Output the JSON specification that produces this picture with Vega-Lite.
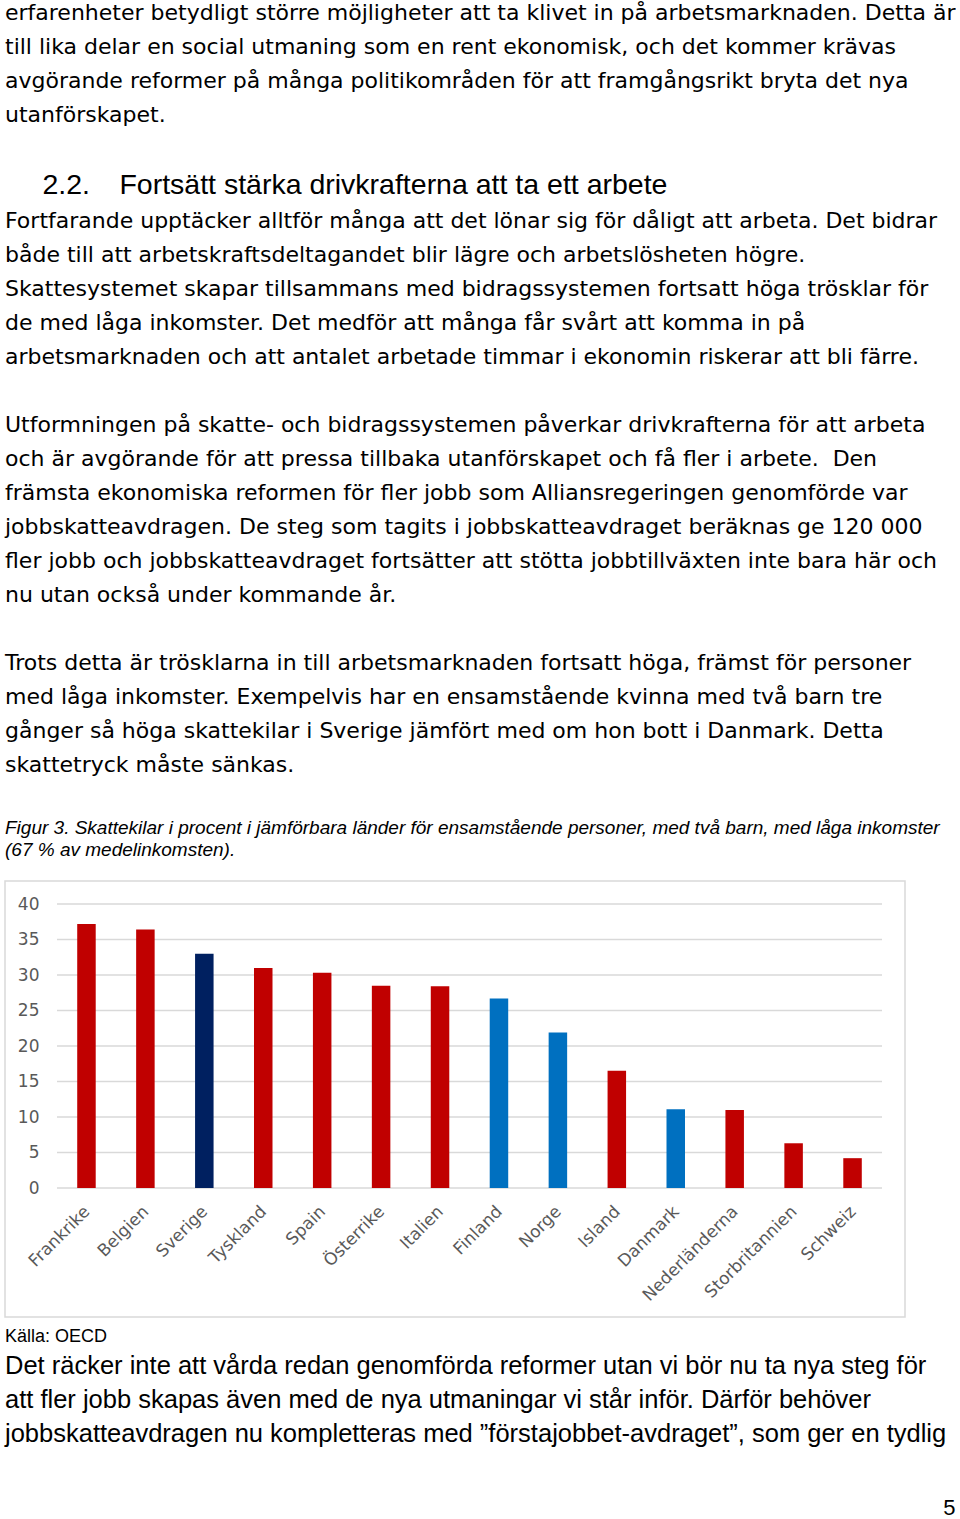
{
  "$schema": "https://vega.github.io/schema/vega-lite/v6.json",
  "background": "white",
  "padding": {"left": 4, "top": 1, "right": 0, "bottom": 0},
  "spacing": 0,
  "config": {
    "view": {"stroke": null},
    "concat": {"spacing": 0},
    "font": "Liberation Sans"
  },
  "title": {
    "text": "5",
    "orient": "bottom",
    "anchor": "end",
    "frame": "bounds",
    "font": "Liberation Sans",
    "fontSize": 22,
    "fontWeight": "normal",
    "color": "#000000",
    "offset": 51
  },
  "vconcat": [
    {
      "title": {
        "text": [
          "erfarenheter betydligt större möjligheter att ta klivet in på arbetsmarknaden. Detta är",
          "till lika delar en social utmaning som en rent ekonomisk, och det kommer krävas",
          "avgörande reformer på många politikområden för att framgångsrikt bryta det nya",
          "utanförskapet."
        ],
        "anchor": "start",
        "frame": "group",
        "font": "DejaVu Sans",
        "fontSize": 22,
        "fontWeight": "normal",
        "lineHeight": 34,
        "color": "#000000",
        "offset": 44
      },
      "vconcat": [
        {
          "title": {
            "text": "\u200b\u00a0\u00a0\u00a0\u00a0\u20092.2.\u00a0\u00a0\u00a0\u2009Fortsätt stärka drivkrafterna att ta ett arbete",
            "subtitle": [
              "Fortfarande upptäcker alltför många att det lönar sig för dåligt att arbeta. Det bidrar",
              "både till att arbetskraftsdeltagandet blir lägre och arbetslösheten högre.",
              "Skattesystemet skapar tillsammans med bidragssystemen fortsatt höga trösklar för",
              "de med låga inkomster. Det medför att många får svårt att komma in på",
              "arbetsmarknaden och att antalet arbetade timmar i ekonomin riskerar att bli färre.",
              "\u200b",
              "Utformningen på skatte- och bidragssystemen påverkar drivkrafterna för att arbeta",
              "och är avgörande för att pressa tillbaka utanförskapet och få fler i arbete.\u00a0 Den",
              "främsta ekonomiska reformen för fler jobb som Alliansregeringen genomförde var",
              "jobbskatteavdragen. De steg som tagits i jobbskatteavdraget beräknas ge 120 000",
              "fler jobb och jobbskatteavdraget fortsätter att stötta jobbtillväxten inte bara här och",
              "nu utan också under kommande år.",
              "\u200b",
              "Trots detta är trösklarna in till arbetsmarknaden fortsatt höga, främst för personer",
              "med låga inkomster. Exempelvis har en ensamstående kvinna med två barn tre",
              "gånger så höga skattekilar i Sverige jämfört med om hon bott i Danmark. Detta",
              "skattetryck måste sänkas."
            ],
            "anchor": "start",
            "frame": "group",
            "font": "Liberation Sans",
            "fontSize": 28.5,
            "fontWeight": "normal",
            "color": "#000000",
            "subtitleFont": "DejaVu Sans",
            "subtitleFontSize": 22,
            "subtitleFontWeight": "normal",
            "subtitleLineHeight": 34,
            "subtitleColor": "#000000",
            "subtitlePadding": 12,
            "offset": 42
          },
          "vconcat": [
            {
              "title": {
                "text": "Källa: OECD",
                "subtitle": [
                  "Det räcker inte att vårda redan genomförda reformer utan vi bör nu ta nya steg för",
                  "att fler jobb skapas även med de nya utmaningar vi står inför. Därför behöver",
                  "jobbskatteavdragen nu kompletteras med ”förstajobbet-avdraget”, som ger en tydlig"
                ],
                "orient": "bottom",
                "anchor": "start",
                "frame": "group",
                "font": "Liberation Sans",
                "fontSize": 18,
                "fontWeight": "normal",
                "color": "#000000",
                "subtitleFont": "Liberation Sans",
                "subtitleFontSize": 25.5,
                "subtitleFontWeight": "normal",
                "subtitleLineHeight": 34,
                "subtitleColor": "#000000",
                "subtitlePadding": 8,
                "offset": 10
              },
              "vconcat": [
                {
                  "title": {
                    "text": [
                      "Figur 3. Skattekilar i procent i jämförbara länder för ensamstående personer, med två barn, med låga inkomster",
                      "(67 % av medelinkomsten)."
                    ],
                    "anchor": "start",
                    "frame": "group",
                    "font": "Liberation Sans",
                    "fontSize": 19,
                    "fontStyle": "italic",
                    "fontWeight": "normal",
                    "lineHeight": 22,
                    "color": "#000000",
                    "offset": 21
                  },
                  "width": 900,
                  "height": 436,
                  "view": {"stroke": "#d9d9d9", "strokeWidth": 1.5},
                  "layer": [
                    {
                      "data": {"values": [{"g": 0}, {"g": 5}, {"g": 10}, {"g": 15}, {"g": 20}, {"g": 25}, {"g": 30}, {"g": 35}, {"g": 40}]},
                      "mark": {"type": "rule", "color": "#d9d9d9", "strokeWidth": 1.5},
                      "encoding": {
                        "y": {
                          "field": "g",
                          "type": "quantitative",
                          "scale": {"domain": [0, 40], "range": [307, 23]},
                          "axis": {"orient": "left", "offset": -44, "domain": false, "ticks": false, "tickSize": 0, "grid": false, "labelPadding": 10, "labelFont": "DejaVu Sans", "labelFontSize": 17, "labelColor": "#595959", "values": [0, 5, 10, 15, 20, 25, 30, 35, 40], "title": null}
                        },
                        "x": {"datum": 0, "type": "quantitative", "scale": {"domain": [0, 1], "range": [52, 877]}, "axis": null},
                        "x2": {"datum": 1}
                      }
                    },
                    {
                      "data": {
                        "values": [
                          {"land": "Frankrike", "skattekil": 37.2, "grupp": "Övriga"},
                          {"land": "Belgien", "skattekil": 36.4, "grupp": "Övriga"},
                          {"land": "Sverige", "skattekil": 33.0, "grupp": "Sverige"},
                          {"land": "Tyskland", "skattekil": 31.0, "grupp": "Övriga"},
                          {"land": "Spain", "skattekil": 30.3, "grupp": "Övriga"},
                          {"land": "Österrike", "skattekil": 28.5, "grupp": "Övriga"},
                          {"land": "Italien", "skattekil": 28.4, "grupp": "Övriga"},
                          {"land": "Finland", "skattekil": 26.7, "grupp": "Norden"},
                          {"land": "Norge", "skattekil": 21.9, "grupp": "Norden"},
                          {"land": "Island", "skattekil": 16.5, "grupp": "Övriga"},
                          {"land": "Danmark", "skattekil": 11.1, "grupp": "Norden"},
                          {"land": "Nederländerna", "skattekil": 11.0, "grupp": "Övriga"},
                          {"land": "Storbritannien", "skattekil": 6.3, "grupp": "Övriga"},
                          {"land": "Schweiz", "skattekil": 4.2, "grupp": "Övriga"}
                        ]
                      },
                      "mark": {"type": "bar"},
                      "encoding": {
                        "x": {
                          "field": "land",
                          "type": "nominal",
                          "sort": null,
                          "scale": {"range": [52, 877], "paddingInner": 0.686, "paddingOuter": 0.343},
                          "axis": {"orient": "bottom", "offset": -129, "domain": false, "ticks": false, "tickSize": 0, "grid": false, "labelAngle": -45, "labelOffset": -5, "labelPadding": 15, "labelFont": "DejaVu Sans", "labelFontSize": 17, "labelColor": "#595959", "labelOverlap": false, "labelLimit": 0, "title": null}
                        },
                        "y": {
                          "field": "skattekil",
                          "type": "quantitative",
                          "scale": {"domain": [0, 40], "range": [307, 23]},
                          "axis": {"orient": "left", "offset": -44, "domain": false, "ticks": false, "tickSize": 0, "grid": false, "labelPadding": 10, "labelFont": "DejaVu Sans", "labelFontSize": 17, "labelColor": "#595959", "values": [0, 5, 10, 15, 20, 25, 30, 35, 40], "title": null}
                        },
                        "color": {
                          "field": "grupp",
                          "type": "nominal",
                          "scale": {"domain": ["Övriga", "Sverige", "Norden"], "range": ["#c00000", "#002060", "#0070c0"]},
                          "legend": null
                        }
                      }
                    }
                  ],
                  "resolve": {"scale": {"x": "independent"}}
                }
              ]
            }
          ]
        }
      ]
    }
  ]
}
